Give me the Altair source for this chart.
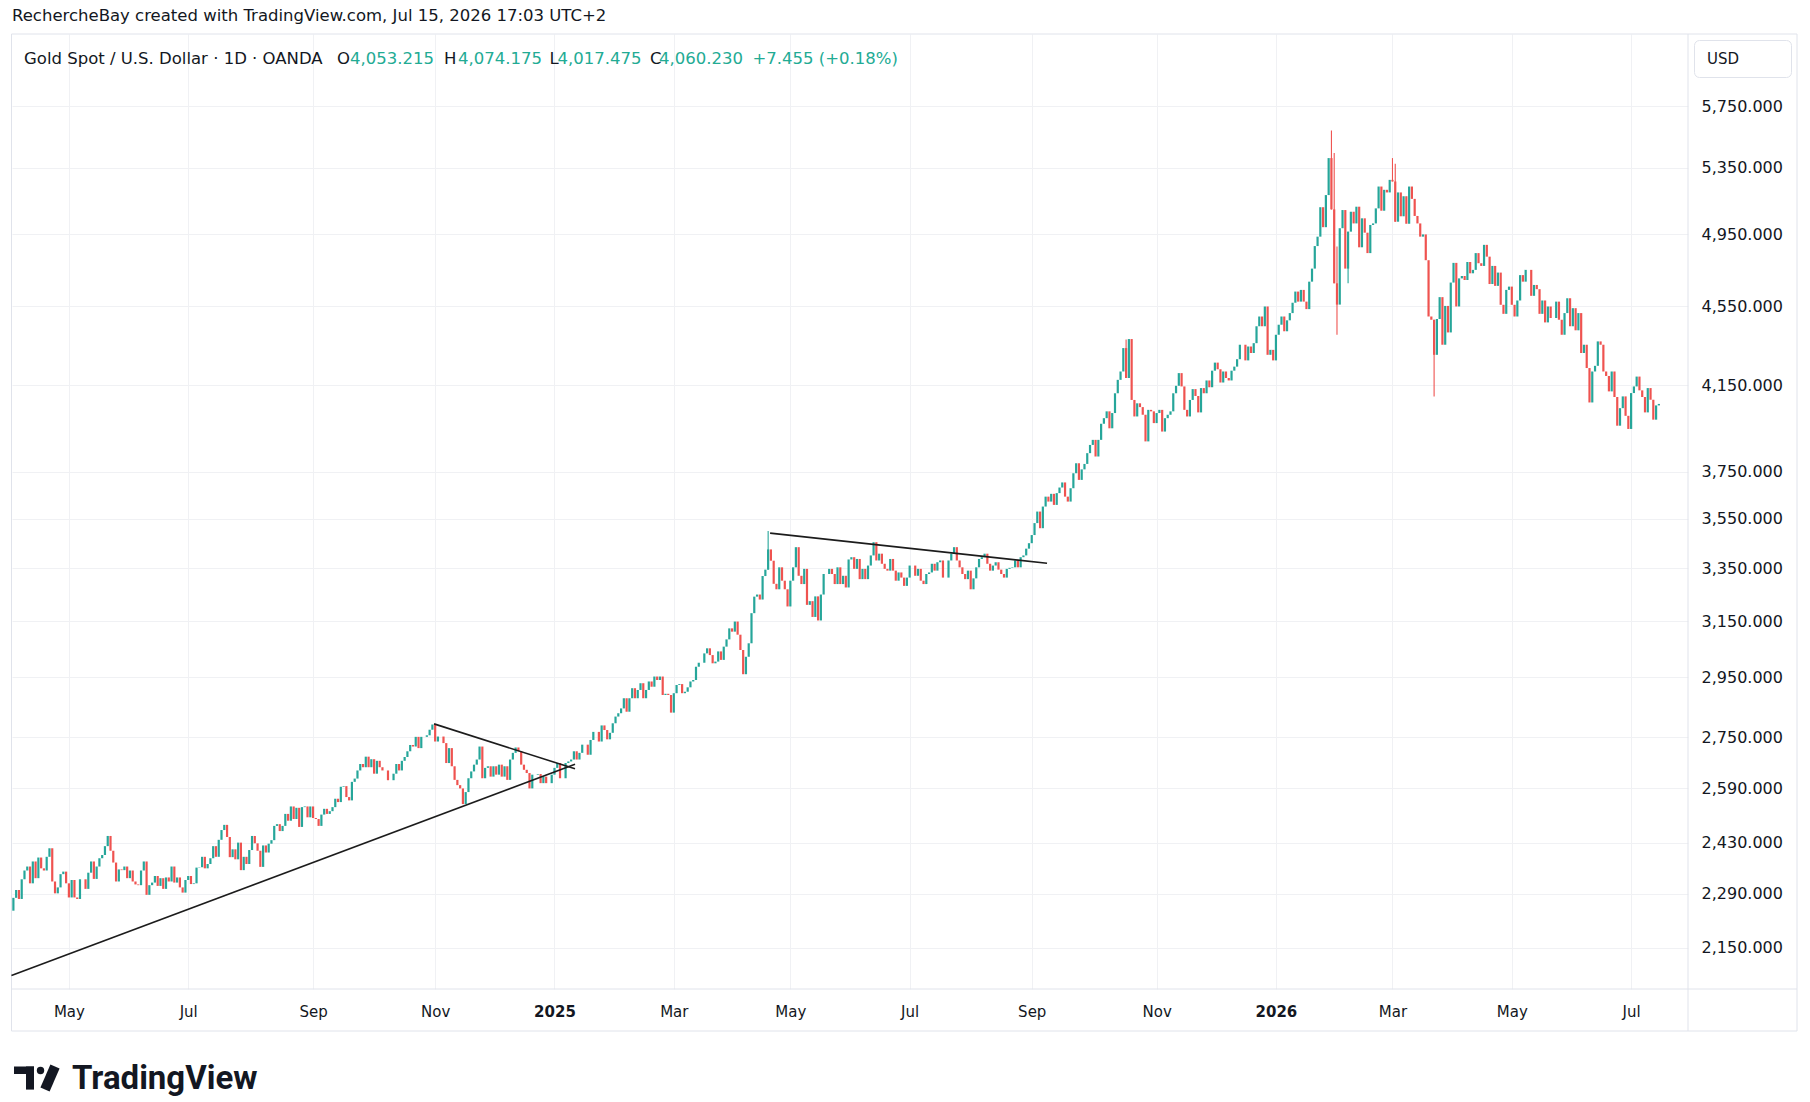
import json
import altair as alt
import pandas as pd

# ---------------- data (daily closes) ----------------
first_open = 2245

closes_2024 = [
    2279, 2300, 2276, 2329, 2353, 2364, 2318, 2378, 2332, 2389,
    2359, 2353, 2391, 2415, 2323, 2291, 2307, 2343, 2350, 2318,
    2280, 2327, 2280, 2276, 2329, 2329, 2303, 2347, 2378, 2330,
    2364, 2387, 2396, 2421, 2450, 2408, 2375, 2323, 2356, 2354,
    2364, 2332, 2353, 2323, 2315, 2313, 2353, 2378, 2287, 2313,
    2320, 2338, 2311, 2332, 2303, 2334, 2323, 2364, 2320, 2334,
    2307, 2293, 2327, 2338, 2316, 2318, 2361, 2362, 2391, 2359,
    2371, 2387, 2421, 2391, 2439, 2467, 2482, 2447, 2390, 2412,
    2384, 2431, 2354, 2391, 2371, 2410, 2450, 2429, 2408,
    2363, 2423, 2403, 2428, 2438, 2479, 2484, 2464, 2479, 2514,
    2494, 2536, 2499, 2532, 2476, 2534, 2536, 2504, 2536, 2502,
    2499, 2479, 2512, 2529, 2514, 2522, 2534, 2559, 2549, 2595,
    2597, 2564, 2554, 2610, 2620, 2645, 2665, 2655, 2688, 2655,
    2680, 2635, 2675, 2655, 2645, 2645, 2615, 2615, 2635, 2665,
    2645, 2675, 2687, 2705, 2725, 2720, 2751, 2715, 2751, 2751,
    2756, 2774, 2791,
    2736, 2752, 2752, 2731, 2668, 2715, 2658, 2616, 2600, 2590,
    2543, 2579, 2621, 2642, 2663, 2679, 2720, 2621, 2653, 2658,
    2626, 2658, 2632, 2663, 2626, 2658, 2616, 2679, 2700, 2717,
    2705, 2663, 2647, 2637, 2590, 2632, 2632, 2634, 2606, 2626,
    2606, 2606, 2632,
]

closes_2025 = [
    2653, 2668, 2621, 2621, 2668, 2673, 2679, 2705, 2679, 2700,
    2726, 2726, 2694, 2741, 2767, 2767, 2736, 2788,
    2773, 2743, 2764, 2795, 2817, 2828, 2844, 2878, 2833, 2878,
    2912, 2878, 2906, 2929, 2878, 2906, 2935, 2917, 2952, 2940,
    2952, 2889, 2893, 2889, 2830, 2895, 2923, 2926, 2895, 2900,
    2915, 2935, 2940, 2986, 3000, 3000, 3033, 3051, 3027, 2998,
    3004, 3040, 3010, 3057, 3083, 3123, 3111, 3148, 3100, 3045,
    2960, 3021, 3069, 3179, 3241, 3249, 3230, 3320,
    3345, 3425, 3380, 3290,
    3269, 3354, 3302, 3269, 3204, 3302, 3354, 3434, 3321, 3289,
    3348, 3210, 3224, 3165, 3242, 3152, 3249, 3328, 3328, 3348,
    3328, 3289, 3354, 3289, 3321, 3276, 3385, 3394, 3348, 3387,
    3308, 3348, 3308, 3361, 3401, 3454, 3381, 3408, 3368, 3348,
    3341, 3387, 3341, 3302, 3334, 3314, 3282, 3314, 3361, 3361,
    3321, 3348, 3302, 3289, 3328, 3334, 3368, 3341, 3374, 3381,
    3314, 3314, 3381, 3408, 3434, 3381, 3354, 3328, 3308, 3341,
    3269, 3311, 3354, 3387, 3394, 3408, 3368, 3341, 3361, 3374,
    3345, 3328, 3314, 3348, 3352, 3354, 3381, 3354, 3394, 3401,
    3428,
    3450, 3483, 3532, 3580, 3511, 3601, 3643, 3622, 3655, 3608,
    3658, 3682, 3704, 3643, 3622, 3679, 3744, 3788, 3715, 3761,
    3785, 3833, 3870, 3893, 3818, 3893, 3967, 3993, 4025, 3946,
    4017, 4111, 4176, 4217, 4334, 4185, 4380, 4079, 4001, 4063,
    4045, 4009, 3886, 4032, 4025, 3970, 4017, 4032, 3931, 3993,
    4009, 4025, 4111, 4147, 4209, 4144, 4032, 4001, 4079, 4131,
    4098, 4020, 4136, 4111, 4173, 4140, 4221, 4261, 4228, 4163,
    4217, 4185, 4173, 4221, 4241, 4278,
    4351, 4351, 4272, 4342, 4309, 4359, 4446, 4497, 4446, 4550,
    4300, 4325, 4272,
]

closes_2026 = [
    4402, 4454, 4497, 4420, 4477, 4515, 4570, 4630, 4576, 4639,
    4576, 4536, 4684, 4756, 4883, 4937, 5110, 4992, 5183, 5412,
    5097, 4675, 4560, 4986, 5093, 4756, 4966, 5083, 5014, 5113,
    4876, 5044, 4960, 4843, 5005, 5014, 5103, 5235, 5089, 5215,
    5199, 5276, 5266, 5024, 5199, 5056, 5176, 5012, 5235, 5160,
    5058, 5014, 4937, 4950, 4803, 4497, 4480, 4300, 4484, 4600,
    4351, 4553, 4414, 4679, 4788, 4550, 4702, 4715, 4693, 4793,
    4730, 4749, 4843, 4786, 4771, 4890, 4823,
    4671, 4771, 4661, 4734, 4559, 4511, 4639, 4657, 4559, 4497,
    4582, 4720, 4684, 4749, 4749, 4607, 4666, 4643, 4511, 4582,
    4466, 4550, 4489, 4489, 4576, 4480, 4402, 4515, 4594, 4446,
    4541, 4425, 4515, 4309, 4351, 4234, 4067, 4217, 4245, 4368,
    4351, 4217, 4195, 4120, 4217, 4093, 3958, 4040, 4096, 4004,
    3943, 4112, 4144, 4192, 4125, 4093, 4020, 4136, 4080, 3986,
    4053, 4060,
]

# long wicks visible on the chart
high_wicks = {"2025-04-21": 3500, "2025-10-17": 4378, "2026-01-29": 5590,
              "2026-01-30": 5445, "2026-02-02": 4880, "2026-03-02": 5412,
              "2026-03-03": 5377}
low_wicks = {"2026-02-02": 4402, "2026-02-06": 4675, "2026-03-23": 4096}

# hand-drawn trend lines (bar index, price)
line_x1 = [-0.7, 151.6, 272.7]
line_p1 = [2081, 2793, 3491]
line_x2 = [202.4, 202.4, 372.5]
line_p2 = [2664, 2650, 3370]

y_ticks = [2150, 2290, 2430, 2590, 2750, 2950, 3150, 3350, 3550, 3750,
           4150, 4550, 4950, 5350, 5750]

legend_parts = [("Gold Spot / U.S. Dollar · 1D · OANDA", "#131722"),
                ("O", "#131722"), ("4,053.215", "#22ab94"),
                ("H", "#131722"), ("4,074.175", "#22ab94"),
                ("L", "#131722"), ("4,017.475", "#22ab94"),
                ("C", "#131722"), ("4,060.230", "#22ab94"),
                ("+7.455 (+0.18%)", "#22ab94")]

# ---------------- build table ----------------
dates = pd.bdate_range("2024-04-03", "2026-07-15")
dates = dates[~dates.isin(pd.to_datetime(["2025-04-18", "2026-04-03"]))]
closes = closes_2024 + closes_2025 + closes_2026
n = min(len(dates), len(closes))
dates = dates[:n]
closes = closes[:n]
opens = [first_open] + closes[:-1]
ds = [d.strftime("%Y-%m-%d") for d in dates]
df = pd.DataFrame({"i": list(range(n)), "date": ds, "o": opens, "c": closes})
df["bot"] = df[["o", "c"]].min(axis=1)
df["top"] = df[["o", "c"]].max(axis=1)
df["dir"] = ["up" if c >= o else "down" for o, c in zip(df["o"], df["c"])]
df["hi"] = [max(t, high_wicks.get(d, t)) for d, t in zip(df["date"], df["top"])]
df["lo"] = [min(b, low_wicks.get(d, b)) for d, b in zip(df["date"], df["bot"])]
wick_df = df[(df["hi"] > df["top"]) | (df["lo"] < df["bot"])]

lines_df = pd.DataFrame({"x1": line_x1, "p1": line_p1, "x2": line_x2, "p2": line_p2})

# month ticks (every other month, first bar of month)
tick_idx, tick_lab, year_idx = [], [], []
prev_m = dates[0].month
for k, d in enumerate(dates):
    if d.month != prev_m:
        if d.month % 2 == 1:
            tick_idx.append(k)
            if d.month == 1:
                tick_lab.append(str(d.year))
                year_idx.append(k)
            else:
                tick_lab.append(d.strftime("%b"))
        prev_m = d.month

W, H = 1676, 955
FONT = "DejaVu Sans"
TXT = "#131722"
GRID = "#f0f1f4"
FRAME = "#e0e3eb"

xscale = alt.Scale(domain=[-0.5, 603.5], nice=False, zero=False)
yscale = alt.Scale(type="log", domain=[2048.6, 6257], nice=False, zero=False)

xaxis = alt.Axis(
    values=tick_idx,
    labelExpr=f"{json.dumps(tick_lab)}[indexof({json.dumps(tick_idx)}, datum.value)]",
    labelFontWeight={"condition": {"test": f"indexof({json.dumps(year_idx)}, datum.value) >= 0",
                                   "value": "bold"}, "value": "normal"},
    grid=True, gridColor=GRID, gridWidth=1, ticks=False, tickSize=0, domain=False,
    labelPadding=22, labelBaseline="middle", labelFont=FONT, labelFontSize=15,
    labelColor=TXT, labelOverlap=False, labelFlush=False, title=None)
yaxis = alt.Axis(
    orient="right", values=y_ticks, format=",.3f", grid=True, gridColor=GRID,
    gridWidth=1, ticks=False, tickSize=0, domain=False, labelPadding=13,
    labelAlign="left", labelBaseline="middle", labelFont=FONT, labelFontSize=16,
    labelColor=TXT, labelOverlap=False, labelFlush=False, title=None)

color = alt.Color("dir:N", scale=alt.Scale(domain=["up", "down"], range=["#26a69a", "#ef5350"]),
                  legend=None)

base = alt.Chart(df)
bodies = base.mark_rule(strokeWidth=2.2).encode(
    x=alt.X("i:Q", scale=xscale, axis=xaxis),
    y=alt.Y("bot:Q", scale=yscale, axis=yaxis),
    y2="top:Q",
    color=color,
)
wicks = alt.Chart(wick_df).mark_rule(strokeWidth=1.1).encode(
    x=alt.X("i:Q", scale=xscale, axis=xaxis),
    y=alt.Y("lo:Q", scale=yscale, axis=yaxis),
    y2="hi:Q",
    color=color,
)
trend = alt.Chart(lines_df).mark_rule(color="#1c1c1c", strokeWidth=1.6).encode(
    x=alt.X("x1:Q", scale=xscale, axis=xaxis),
    x2="x2:Q",
    y=alt.Y("p1:Q", scale=yscale, axis=yaxis),
    y2="p2:Q",
)

one = pd.DataFrame({"k": [0]})


def rule(x1, y1, x2, y2, col=FRAME, w=1, cap="butt"):
    return alt.Chart(one).mark_rule(color=col, strokeWidth=w, strokeCap=cap).encode(
        x=alt.value(x1), y=alt.value(y1), x2=alt.value(x2), y2=alt.value(y2))


def txt(s, x, y, size=16, col=TXT, weight="normal", font=FONT, align="left", baseline="middle"):
    return alt.Chart(one).mark_text(text=s, font=font, fontSize=size, fontWeight=weight,
                                    color=col, align=align, baseline=baseline).encode(
        x=alt.value(x), y=alt.value(y))


def rect(x1, y1, x2, y2, fill, stroke=None, radius=0):
    kw = dict(fill=fill, cornerRadius=radius)
    if stroke:
        kw.update(stroke=stroke, strokeWidth=1)
    return alt.Chart(one).mark_rect(**kw).encode(
        x=alt.value(x1), y=alt.value(y1), x2=alt.value(x2), y2=alt.value(y2))


frame = [
    rule(-0.5, 0, 1785, 0), rule(-0.5, 997, 1785, 997),
    rule(-0.5, 0, -0.5, 997), rule(1785, 0, 1785, 997),
    rule(W, 0, W, 997), rule(-0.5, H, 1785, H),
]

# legend texts
legend_x = [12, 325, 338, 432, 446, 537.5, 545.5, 638, 647, 740.5]
legend_layers = [txt(s, x, 24.5, size=16.5, col=c) for (s, c), x in zip(legend_parts, legend_x)]

header = txt("RechercheBay created with TradingView.com, Jul 15, 2026 17:03 UTC+2", 0, -18.5, size=16.5)

usd = [rect(1682.5, 6.5, 1779.5, 43.5, "white", stroke=FRAME, radius=5),
       txt("USD", 1695, 25, size=15)]

logo = [
    rect(2, 1032.5, 22, 1040, TXT),
    rect(14, 1032.5, 22, 1055.6, TXT),
    alt.Chart(one).mark_point(shape="circle", filled=True, size=55, color=TXT, opacity=1).encode(
        x=alt.value(28.5), y=alt.value(1036.5)),
    rule(43, 1032.5, 33, 1055.6, col=TXT, w=10),
    txt("TradingView", 60, 1055, size=33, weight="bold", font="Roboto", baseline="alphabetic"),
]

layers = frame + [wicks, bodies, trend] + legend_layers + [header] + usd + logo

chart = alt.layer(*layers).properties(
    width=W, height=H,
    padding={"left": 12, "top": 34, "right": 122, "bottom": 113},
    autosize=alt.AutoSizeParams(type="none"),
    background="white",
).configure_view(stroke=None)

chart.save("out.html", embed_options={"renderer": "svg", "actions": False})
